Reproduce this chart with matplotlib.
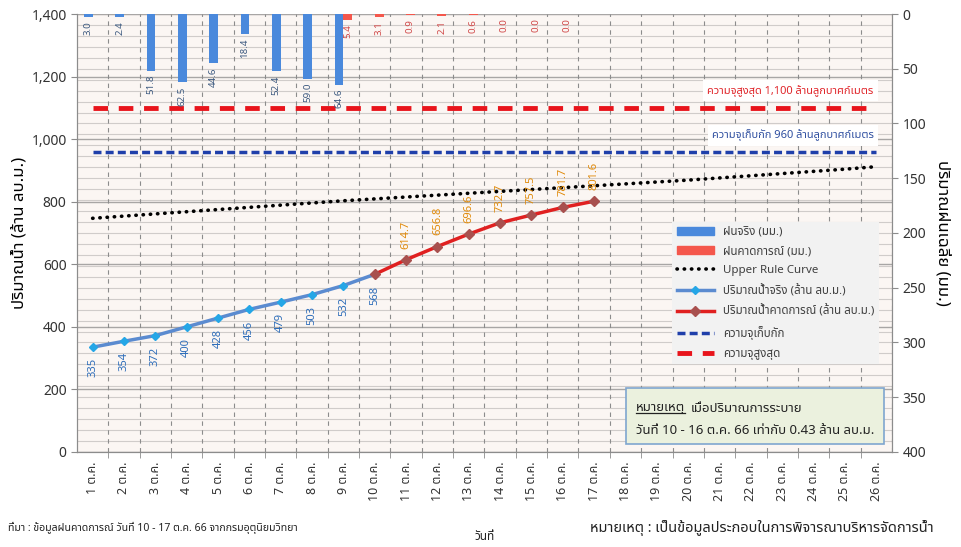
import matplotlib
matplotlib.use("Agg")
import matplotlib.pyplot as plt
from matplotlib import font_manager
from matplotlib.ft2font import FT2Font
from matplotlib.lines import Line2D
from matplotlib.patches import Patch, Rectangle

# ---- data ----
day_labels = ["1 ต.ค.", "2 ต.ค.", "3 ต.ค.", "4 ต.ค.", "5 ต.ค.", "6 ต.ค.", "7 ต.ค.",
              "8 ต.ค.", "9 ต.ค.", "10 ต.ค.", "11 ต.ค.", "12 ต.ค.", "13 ต.ค.",
              "14 ต.ค.", "15 ต.ค.", "16 ต.ค.", "17 ต.ค.", "18 ต.ค.", "19 ต.ค.",
              "20 ต.ค.", "21 ต.ค.", "22 ต.ค.", "23 ต.ค.", "24 ต.ค.", "25 ต.ค.", "26 ต.ค."]
day_nums = [1, 2, 3, 4, 5, 6, 7, 8, 9, 10, 11, 12, 13, 14, 15, 16, 17, 18, 19, 20,
            21, 22, 23, 24, 25, 26]

rain_actual_days = [1, 2, 3, 4, 5, 6, 7, 8, 9]
rain_actual = [3.0, 2.4, 51.8, 62.5, 44.6, 18.4, 52.4, 59.0, 64.6]
rain_fc_days = [9, 10, 11, 12, 13, 14, 15, 16]
rain_fc = [5.4, 3.1, 0.9, 2.1, 0.6, 0.0, 0.0, 0.0]

water_actual_days = [1, 2, 3, 4, 5, 6, 7, 8, 9, 10]
water_actual = [335, 354, 372, 400, 428, 456, 479, 503, 532, 568]
water_fc_days = [10, 11, 12, 13, 14, 15, 16, 17]
water_fc = [568, 614.7, 656.8, 696.6, 732.7, 757.5, 781.7, 801.6]

rule_curve = [747, 754, 761, 768, 775, 782, 789, 796, 803, 809, 815, 821, 827,
              833, 839, 845, 851, 857, 863, 869, 876, 883, 890, 897, 904, 912]
cap_store = [960] * 26
cap_max = [1100] * 26


def find_thai_font():
    names = []
    for f in font_manager.fontManager.ttflist:
        try:
            if 0x0E01 in FT2Font(f.fname).get_charmap():
                names.append(f.name)
        except Exception:
            pass
    for pref in ["Noto Sans Thai", "Noto Sans Thai UI", "Tahoma", "Leelawadee UI",
                 "Loma", "Garuda", "Sarabun", "Noto Sans Thai Looped"]:
        if pref in names:
            return pref
    return names[0] if names else None


thai = find_thai_font()
plt.rcParams['font.family'] = [thai, 'DejaVu Sans'] if thai else ['DejaVu Sans']

dotted = (0, (0.1, 1.9))

fig = plt.figure(figsize=(9.61, 5.47), dpi=100)
ax = fig.add_axes([0.0801, 0.1737, 0.848, 0.8007])
ax.set_facecolor("#FBF6F3")
ax2 = ax.twinx()

# grid
for v in range(0, 1401, 35):
    ax.axhline(v, color="#D0CCCA", lw=0.8, zorder=0)
for v in range(0, 1401, 200):
    ax.axhline(v, color="#A8A6A5", lw=1.0, zorder=0)
for d in day_nums:
    ax.axvline(d + 0.5, color="#8C8C8C", lw=0.8, ls=(0, (4, 4)), zorder=0)

# lines (left axis)
ax.plot(day_nums, cap_max, color="#E8141B", lw=3.5, ls=(0, (3, 2.2)), zorder=3)
ax.plot(day_nums, cap_store, color="#1F3FAA", lw=2.5, ls=(0, (2.3, 1.2)), zorder=3)
ax.plot(day_nums, rule_curve, color="black", lw=2.6, ls=dotted,
        dash_capstyle="round", zorder=3)
ax.plot(water_actual_days, water_actual, color="#5B8BD0", lw=2.5, marker="D",
        ms=4.5, mfc="#25A6E6", mec="#25A6E6", zorder=4)
ax.plot(water_fc_days, water_fc, color="#E02020", lw=2.5, marker="D",
        ms=5, mfc="#A8504E", mec="#A8504E", zorder=4)

for d, v in zip(water_actual_days, water_actual):
    ax.annotate(f"{v:.0f}", (d, v), xytext=(0, -8), textcoords="offset points",
                rotation=90, ha="center", va="top", fontsize=8, color="#2F6EBA")
for d, v in zip(water_fc_days[1:], water_fc[1:]):
    ax.annotate(f"{v:.1f}", (d, v), xytext=(0, 8), textcoords="offset points",
                rotation=90, ha="center", va="bottom", fontsize=8, color="#E08A0A")

ax.set_xlim(0.5, 26.5)
ax.set_ylim(0, 1400)
ax.set_yticks(range(0, 1401, 200))
ax.set_yticklabels([f"{v:,}" for v in range(0, 1401, 200)], fontsize=10, color="#333333")
ax.set_xticks([d + 0.5 for d in day_nums[:-1]], minor=True)
ax.set_xticks(day_nums)
ax.set_xticklabels(day_labels, rotation=90, fontsize=9, color="#333333")
ax.tick_params(axis="x", which="major", length=0, pad=7)
ax.tick_params(axis="x", which="minor", length=4, color="#8C8C8C")
ax.tick_params(axis="y", length=4, color="#8C8C8C")
ax.set_ylabel("ปริมาณน้ำ (ล้าน ลบ.ม.)", fontsize=12, fontweight="bold", labelpad=3)

# bars (right axis, inverted)
w = 0.28
ax2.bar([d - w / 2 for d in rain_actual_days], rain_actual, width=w,
        color="#4A89DC", zorder=2)
ax2.bar([d + w / 2 for d in rain_fc_days], rain_fc, width=w,
        color="#F4574C", zorder=2)
for d, v in zip(rain_actual_days, rain_actual):
    ax2.annotate(f"{v:.1f}", (d - w / 2, v), xytext=(0, -3), textcoords="offset points",
                 rotation=90, ha="center", va="top", fontsize=7, color="#3D5A80")
for d, v in zip(rain_fc_days, rain_fc):
    ax2.annotate(f"{v:.1f}", (d + w / 2, v), xytext=(0, -3), textcoords="offset points",
                 rotation=90, ha="center", va="top", fontsize=7, color="#D04848")
ax2.set_ylim(400, 0)
ax2.set_yticks(range(0, 401, 50))
ax2.tick_params(axis="y", labelsize=10, labelcolor="#333333", length=4, color="#8C8C8C")
ax2.set_ylabel("ปริมาณฝนเฉลี่ย (มม.)", fontsize=12, fontweight="bold",
               rotation=270, labelpad=18)

for a in (ax, ax2):
    for s in a.spines.values():
        s.set_color("#8C8C8C")
    a.spines["top"].set_visible(False)

# capacity captions
ax.text(23.26, 1155, "ความจุสูงสุด 1,100 ล้านลูกบาศก์เมตร", fontsize=8,
        color="#E0252A", ha="center", va="center", zorder=5,
        bbox=dict(facecolor="white", edgecolor="none", pad=3))
ax.text(23.35, 1012, "ความจุเก็บกัก 960 ล้านลูกบาศก์เมตร", fontsize=8,
        color="#2F4FA0", ha="center", va="center", zorder=5,
        bbox=dict(facecolor="white", edgecolor="none", pad=3))

# legend
handles = [
    Patch(color="#4A89DC"),
    Patch(color="#F4574C"),
    Line2D([], [], color="black", lw=2.6, ls=dotted, dash_capstyle="round"),
    Line2D([], [], color="#5B8BD0", lw=2.5, marker="D", ms=4.5, mfc="#25A6E6", mec="#25A6E6"),
    Line2D([], [], color="#E02020", lw=2.5, marker="D", ms=5, mfc="#A8504E", mec="#A8504E"),
    Line2D([], [], color="#1F3FAA", lw=2.5, ls=(0, (2.3, 1.2))),
    Line2D([], [], color="#E8141B", lw=3.5, ls=(0, (3, 2.2))),
]
labels = ["ฝนจริง (มม.)", "ฝนคาดการณ์ (มม.)", "Upper Rule Curve",
          "ปริมาณน้ำจริง (ล้าน ลบ.ม.)", "ปริมาณน้ำคาดการณ์ (ล้าน ลบ.ม.)",
          "ความจุเก็บกัก", "ความจุสูงสุด"]
leg = ax2.legend(handles, labels, loc="upper left", bbox_to_anchor=(672 / 961, 1 - 222 / 547),
                 bbox_transform=fig.transFigure, fontsize=8.3, handlelength=3.2,
                 labelspacing=0.72, facecolor="#F2F2F2", edgecolor="none",
                 fancybox=False, framealpha=1, borderaxespad=0)
for t in leg.get_texts():
    t.set_color("#404040")
leg.set_zorder(10)

# note box
fig.add_artist(Rectangle((626 / 961, 1 - 444 / 547), 258 / 961, 56 / 547,
                         transform=fig.transFigure, facecolor="#EBF1DE",
                         edgecolor="#7FA6CF", lw=1.2, zorder=11))
t1 = fig.text(636 / 961, 1 - 408 / 547, "หมายเหตุ", fontsize=9.5, color="#222222",
              va="center", zorder=12)
fig.canvas.draw()
bb = t1.get_window_extent().transformed(fig.transFigure.inverted())
fig.add_artist(Line2D([bb.x0, bb.x1], [bb.y0 + 0.002, bb.y0 + 0.002],
                      transform=fig.transFigure, color="#222222", lw=0.9, zorder=12))
fig.text(bb.x1 + 0.006, 1 - 408 / 547, "เมื่อปริมาณการระบาย", fontsize=9.5,
         color="#222222", va="center", zorder=12)
fig.text(636 / 961, 1 - 430 / 547, "วันที่ 10 - 16 ต.ค. 66 เท่ากับ 0.43 ล้าน ลบ.ม.",
         fontsize=9.5, color="#222222", va="center", zorder=12)

# footer texts
fig.text(8 / 961, 1 - 528 / 547,
         "ที่มา : ข้อมูลฝนคาดการณ์ วันที่ 10 - 17 ต.ค. 66 จากกรมอุตุนิยมวิทยา",
         fontsize=7.6, color="#222222", va="center")
fig.text(485 / 961, 1 - 536 / 547, "วันที่", fontsize=8.5, color="#222222",
         ha="center", va="center")
fig.text(590 / 961, 1 - 528 / 547,
         "หมายเหตุ : เป็นข้อมูลประกอบในการพิจารณาบริหารจัดการน้ำ",
         fontsize=10.5, color="#222222", va="center")

fig.savefig("out.png", dpi=100)
